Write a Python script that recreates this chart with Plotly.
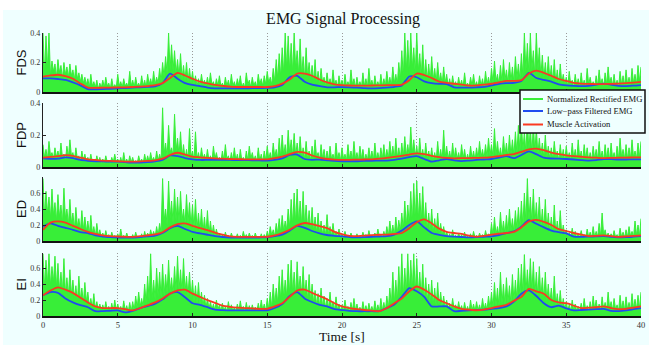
import plotly.graph_objects as go
from plotly.subplots import make_subplots

# ---------------- data ----------------
muscles = ["FDS", "FDP", "ED", "EI"]
legend_names = ["Normalized Rectified EMG", "Low\u2212pass Filtered EMG", "Muscle Activation"]
x_ticks = [0, 5, 10, 15, 20, 25, 30, 35, 40]
t_fine = [round(i * 0.1, 1) for i in range(401)]     # 0.1 s sampling of rectified EMG
t_coarse = [round(i * 0.5, 1) for i in range(81)]    # 0.5 s sampling of smooth curves

fds_raw = [
 .40,.12,.38,.16,.40,.11,.21,.14,.19,.10, .22,.13,.18,.09,.20,.12,.17,.10,.19,.11,
 .15,.08,.18,.09,.13,.07,.12,.06,.10,.05, .09,.03,.12,.04,.07,.03,.08,.02,.06,.03,
 .08,.03,.10,.04,.06,.02,.09,.03,.05,.03, .12,.04,.07,.03,.09,.04,.06,.03,.14,.04,
 .08,.03,.10,.04,.06,.03,.11,.04,.08,.03, .12,.05,.09,.04,.14,.05,.10,.06,.16,.07,
 .20,.10,.24,.12,.40,.15,.32,.14,.28,.12, .22,.10,.26,.09,.18,.08,.20,.07,.16,.06,
 .14,.05,.11,.04,.09,.04,.12,.05,.08,.04, .10,.04,.13,.05,.07,.03,.09,.04,.11,.04,
 .06,.03,.10,.04,.08,.03,.12,.04,.07,.03, .09,.04,.11,.03,.06,.03,.13,.05,.08,.03,
 .10,.04,.07,.03,.12,.05,.09,.04,.11,.05, .14,.06,.10,.05,.16,.07,.22,.09,.26,.10,
 .30,.12,.40,.15,.38,.14,.33,.13,.40,.16, .28,.12,.36,.11,.24,.09,.30,.10,.20,.08,
 .18,.07,.22,.06,.14,.05,.16,.06,.10,.04, .13,.05,.09,.04,.15,.05,.08,.03,.11,.04,
 .08,.03,.12,.04,.07,.03,.15,.05,.09,.03, .10,.04,.07,.03,.13,.04,.09,.03,.16,.05,
 .08,.03,.11,.04,.07,.03,.12,.04,.09,.04, .14,.05,.10,.04,.17,.06,.12,.05,.20,.08,
 .28,.10,.40,.14,.35,.12,.40,.16,.30,.12, .40,.14,.26,.10,.32,.09,.22,.08,.19,.07,
 .24,.08,.16,.06,.20,.07,.13,.05,.17,.06, .12,.04,.09,.03,.11,.04,.07,.03,.10,.04,
 .08,.03,.13,.04,.06,.03,.10,.04,.12,.04, .07,.03,.11,.04,.09,.03,.14,.05,.10,.04,
 .16,.06,.21,.07,.12,.05,.18,.06,.22,.08, .15,.06,.20,.07,.17,.06,.24,.09,.19,.08,
 .26,.10,.40,.14,.33,.12,.40,.15,.28,.11, .40,.14,.30,.10,.25,.09,.20,.08,.24,.08,
 .18,.07,.22,.06,.15,.05,.19,.06,.12,.05, .10,.04,.14,.05,.08,.03,.12,.04,.09,.03,
 .13,.04,.08,.03,.16,.05,.10,.04,.07,.03, .11,.04,.15,.05,.09,.03,.13,.05,.17,.06,
 .10,.04,.12,.04,.08,.03,.14,.05,.11,.04, .15,.05,.10,.04,.16,.06,.12,.05,.18,.07,
 .17]

fdp_raw = [
 .14,.06,.11,.05,.16,.07,.09,.05,.12,.06, .10,.05,.15,.06,.08,.04,.13,.06,.17,.07,
 .09,.04,.12,.05,.07,.03,.10,.04,.08,.03, .06,.03,.08,.03,.05,.02,.07,.03,.06,.02,
 .05,.02,.07,.03,.04,.02,.06,.03,.08,.03, .05,.02,.06,.02,.09,.03,.05,.02,.07,.03,
 .06,.02,.04,.02,.07,.03,.05,.02,.08,.03, .07,.03,.09,.04,.06,.03,.10,.04,.08,.04,
 .37,.08,.15,.06,.26,.09,.12,.07,.33,.10, .18,.07,.22,.06,.14,.05,.11,.04,.24,.06,
 .10,.04,.22,.05,.09,.04,.12,.05,.08,.04, .11,.04,.07,.03,.13,.05,.09,.04,.06,.03,
 .10,.04,.14,.05,.07,.03,.09,.04,.12,.04, .08,.03,.11,.04,.06,.03,.10,.04,.13,.05,
 .09,.04,.07,.03,.12,.04,.08,.03,.10,.04, .13,.05,.09,.04,.15,.06,.11,.05,.18,.06,
 .20,.07,.14,.06,.23,.08,.17,.07,.21,.07, .15,.06,.19,.06,.12,.05,.16,.05,.10,.04,
 .13,.05,.17,.06,.09,.04,.14,.05,.11,.04, .10,.04,.13,.05,.08,.04,.15,.05,.09,.04,
 .12,.05,.08,.04,.14,.05,.10,.04,.16,.05, .09,.04,.13,.05,.11,.04,.08,.04,.12,.05,
 .10,.04,.15,.05,.09,.04,.12,.05,.14,.05, .11,.05,.16,.06,.13,.05,.18,.06,.12,.05,
 .15,.06,.19,.07,.14,.06,.25,.08,.17,.07, .13,.05,.18,.06,.11,.04,.15,.05,.10,.04,
 .12,.04,.09,.04,.16,.05,.11,.04,.23,.06, .13,.05,.10,.04,.15,.05,.12,.05,.09,.04,
 .14,.05,.11,.04,.08,.04,.13,.05,.10,.04, .12,.05,.16,.06,.11,.05,.14,.06,.18,.07,
 .14,.06,.24,.07,.16,.06,.12,.05,.19,.07, .15,.06,.20,.07,.17,.07,.22,.08,.26,.09,
 .28,.10,.22,.09,.30,.10,.25,.08,.27,.09, .24,.08,.18,.07,.15,.06,.20,.06,.13,.05,
 .12,.05,.16,.06,.10,.04,.14,.05,.11,.04, .13,.05,.09,.04,.15,.05,.11,.04,.17,.05,
 .10,.04,.14,.05,.12,.04,.09,.04,.13,.05, .11,.05,.16,.05,.10,.04,.14,.05,.12,.04,
 .15,.05,.09,.04,.13,.05,.18,.06,.11,.05, .14,.05,.12,.05,.17,.06,.10,.05,.15,.06,
 .16]

ed_raw = [
 .78,.30,.62,.35,.55,.28,.65,.32,.48,.25, .58,.30,.45,.22,.66,.28,.40,.20,.52,.22,
 .35,.15,.42,.18,.28,.12,.38,.14,.30,.12, .25,.08,.32,.10,.18,.06,.22,.07,.14,.05,
 .10,.04,.13,.05,.08,.03,.11,.04,.07,.03, .09,.03,.15,.04,.07,.03,.10,.04,.06,.03,
 .08,.03,.11,.04,.06,.03,.09,.03,.12,.04, .10,.04,.14,.06,.12,.05,.18,.07,.22,.10,
 .78,.25,.40,.20,.75,.28,.50,.22,.65,.25, .55,.22,.62,.25,.40,.20,.58,.22,.48,.18,
 .45,.15,.52,.14,.35,.12,.40,.10,.30,.09, .38,.08,.25,.07,.20,.06,.15,.05,.10,.04,
 .08,.03,.11,.04,.07,.03,.10,.04,.06,.03, .09,.03,.07,.03,.12,.04,.08,.03,.10,.04,
 .07,.03,.10,.04,.06,.03,.09,.03,.08,.03, .12,.05,.18,.07,.14,.06,.22,.09,.28,.10,
 .32,.12,.25,.14,.40,.16,.52,.20,.60,.22, .65,.22,.50,.20,.62,.18,.45,.16,.38,.14,
 .42,.12,.30,.10,.35,.09,.25,.08,.20,.07, .33,.08,.18,.06,.22,.06,.12,.05,.15,.04,
 .08,.03,.12,.04,.07,.03,.10,.04,.06,.03, .09,.03,.06,.03,.11,.04,.08,.03,.13,.04,
 .07,.03,.10,.04,.15,.05,.08,.04,.12,.05, .18,.06,.25,.08,.20,.07,.30,.10,.26,.12,
 .35,.14,.50,.18,.45,.20,.62,.22,.72,.25, .75,.26,.60,.22,.68,.20,.48,.15,.35,.12,
 .40,.10,.28,.09,.35,.08,.22,.07,.18,.06, .12,.04,.09,.03,.14,.04,.07,.03,.10,.04,
 .08,.03,.11,.04,.06,.03,.09,.03,.12,.04, .07,.03,.10,.04,.08,.03,.13,.05,.09,.04,
 .22,.06,.30,.08,.18,.07,.36,.09,.25,.08, .32,.10,.40,.12,.28,.11,.38,.14,.42,.15,
 .50,.18,.60,.22,.78,.25,.55,.22,.65,.20, .48,.18,.55,.16,.40,.14,.52,.12,.35,.11,
 .30,.10,.45,.09,.25,.08,.38,.07,.20,.06, .14,.05,.10,.04,.16,.05,.12,.04,.09,.04,
 .13,.04,.08,.03,.15,.05,.11,.04,.18,.05, .12,.05,.22,.06,.35,.07,.14,.05,.10,.04,
 .09,.04,.13,.05,.08,.03,.16,.05,.11,.04, .14,.05,.18,.06,.12,.05,.25,.07,.20,.06,
 .28]

ei_raw = [
 .78,.35,.70,.40,.78,.38,.62,.42,.75,.36, .66,.32,.55,.30,.72,.28,.48,.25,.58,.26,
 .45,.22,.38,.18,.50,.20,.35,.16,.42,.18, .30,.12,.22,.10,.28,.09,.18,.08,.15,.07,
 .14,.06,.18,.07,.12,.05,.16,.06,.20,.07, .15,.06,.12,.05,.19,.07,.13,.05,.17,.06,
 .18,.07,.25,.10,.30,.12,.22,.11,.40,.15, .50,.18,.78,.22,.45,.20,.60,.24,.55,.22,
 .65,.25,.52,.28,.70,.30,.48,.26,.62,.30, .75,.32,.58,.28,.72,.30,.50,.25,.55,.22,
 .45,.18,.38,.15,.42,.14,.30,.12,.26,.10, .22,.09,.18,.08,.15,.07,.20,.08,.14,.06,
 .16,.06,.12,.05,.18,.07,.14,.06,.11,.05, .15,.06,.19,.07,.12,.05,.17,.06,.13,.05,
 .14,.06,.11,.05,.16,.06,.20,.07,.15,.06, .22,.08,.30,.10,.40,.14,.35,.16,.50,.20,
 .58,.22,.45,.24,.65,.26,.70,.28,.55,.25, .68,.30,.50,.26,.62,.24,.45,.20,.52,.18,
 .40,.16,.32,.14,.28,.12,.35,.11,.25,.10, .22,.09,.30,.08,.18,.07,.24,.07,.15,.06,
 .14,.06,.20,.07,.12,.05,.17,.06,.22,.07, .15,.06,.11,.05,.18,.06,.13,.05,.16,.06,
 .12,.05,.19,.06,.14,.05,.22,.07,.17,.06, .25,.09,.35,.12,.55,.16,.45,.18,.62,.20,
 .78,.25,.60,.28,.78,.30,.70,.32,.78,.28, .72,.26,.55,.22,.65,.20,.48,.18,.40,.15,
 .45,.14,.35,.12,.42,.11,.30,.10,.25,.09, .20,.08,.16,.07,.22,.08,.14,.06,.18,.07,
 .13,.05,.17,.06,.12,.05,.20,.07,.15,.06, .18,.07,.14,.06,.22,.08,.16,.07,.25,.09,
 .30,.10,.42,.12,.35,.11,.55,.14,.40,.13, .48,.16,.38,.15,.52,.18,.45,.20,.60,.22,
 .65,.25,.77,.28,.58,.30,.72,.28,.68,.26, .55,.24,.62,.22,.48,.20,.55,.18,.40,.15,
 .35,.14,.50,.12,.28,.10,.32,.09,.22,.08, .18,.07,.14,.06,.20,.07,.15,.06,.12,.05,
 .16,.06,.22,.07,.13,.05,.18,.06,.25,.08, .20,.07,.15,.06,.24,.08,.17,.07,.30,.09,
 .18,.07,.22,.08,.14,.06,.26,.08,.19,.07, .24,.08,.17,.07,.28,.09,.21,.08,.26,.09,
 .30]

fds_lowpass = [.093,.092,.088,.082,.065,.045,.020,.018,.020,.022,.025,.027,.030,.032,.035,.038,.060,.125,.090,.060,
               .048,.040,.030,.025,.024,.024,.025,.025,.026,.027,.028,.032,.047,.100,.110,.070,.050,.040,.032,.032,
               .033,.032,.030,.026,.024,.026,.030,.035,.045,.105,.100,.072,.060,.055,.054,.032,.030,.030,.032,.035,
               .045,.055,.060,.062,.075,.130,.095,.082,.070,.052,.045,.042,.040,.042,.050,.057,.050,.042,.040,.043,.047]
fds_activation = [.104,.112,.117,.108,.090,.058,.030,.028,.029,.030,.031,.032,.034,.036,.040,.046,.060,.095,.130,.112,
                  .090,.070,.058,.048,.042,.036,.034,.034,.034,.034,.034,.040,.057,.085,.125,.125,.110,.085,.065,.052,
                  .046,.044,.043,.043,.044,.045,.046,.047,.050,.080,.125,.115,.095,.070,.062,.056,.050,.044,.045,.050,
                  .056,.065,.075,.075,.080,.125,.145,.130,.110,.088,.075,.062,.057,.055,.054,.054,.055,.057,.060,.064,.068]
fdp_lowpass = [.054,.051,.052,.060,.055,.044,.039,.036,.035,.034,.033,.030,.027,.028,.031,.036,.045,.072,.068,.056,
               .048,.044,.044,.044,.044,.044,.043,.043,.042,.041,.040,.045,.054,.075,.078,.050,.045,.046,.042,.038,
               .036,.035,.036,.038,.039,.040,.040,.045,.052,.062,.068,.050,.034,.042,.050,.042,.037,.040,.044,.047,
               .050,.058,.068,.055,.075,.098,.080,.058,.053,.052,.050,.047,.043,.040,.043,.050,.049,.047,.047,.048,.048]
fdp_activation = [.058,.063,.068,.074,.070,.058,.048,.044,.040,.038,.036,.034,.033,.035,.038,.042,.052,.075,.089,.078,
                  .065,.060,.057,.054,.052,.050,.049,.048,.048,.048,.048,.055,.065,.080,.094,.090,.072,.058,.050,.046,
                  .044,.045,.046,.047,.048,.052,.057,.063,.069,.078,.085,.080,.070,.062,.057,.054,.055,.056,.057,.058,
                  .062,.068,.075,.081,.095,.110,.115,.105,.090,.080,.073,.068,.064,.060,.058,.056,.057,.058,.059,.060,.060]
ed_lowpass = [.18,.22,.19,.165,.14,.11,.10,.07,.055,.048,.044,.044,.044,.05,.058,.068,.10,.16,.19,.15,
              .115,.095,.078,.062,.05,.044,.044,.044,.044,.044,.046,.06,.08,.13,.19,.165,.125,.095,.075,.065,
              .058,.05,.045,.048,.052,.056,.06,.08,.13,.20,.245,.17,.10,.078,.062,.055,.05,.045,.048,.053,
              .058,.075,.10,.12,.18,.262,.215,.17,.13,.11,.095,.055,.052,.055,.058,.06,.052,.045,.048,.054,.06]
ed_activation = [.14,.23,.245,.23,.19,.15,.115,.09,.07,.06,.056,.053,.052,.06,.072,.083,.11,.17,.21,.22,
                 .19,.16,.135,.105,.08,.058,.052,.052,.052,.052,.053,.07,.10,.14,.195,.225,.21,.185,.16,.115,
                 .085,.063,.062,.068,.074,.078,.08,.088,.10,.16,.235,.27,.22,.155,.115,.10,.088,.068,.055,.065,
                 .08,.092,.10,.115,.17,.245,.265,.24,.20,.148,.125,.10,.08,.062,.065,.07,.062,.052,.058,.065,.07]
ei_lowpass = [.26,.30,.29,.22,.17,.135,.11,.06,.062,.066,.07,.045,.065,.10,.125,.155,.21,.28,.30,.235,
              .16,.14,.11,.08,.074,.07,.07,.07,.07,.07,.072,.10,.15,.25,.30,.22,.175,.14,.12,.085,
              .075,.065,.06,.06,.06,.062,.10,.145,.24,.35,.31,.24,.12,.12,.12,.06,.065,.07,.075,.08,
              .09,.10,.12,.18,.28,.32,.25,.16,.11,.13,.095,.07,.075,.08,.085,.09,.065,.062,.07,.085,.10]
ei_activation = [.26,.32,.36,.33,.29,.23,.17,.12,.10,.10,.10,.085,.07,.10,.135,.17,.22,.28,.32,.33,
                 .28,.24,.20,.165,.13,.115,.105,.10,.095,.09,.09,.12,.16,.24,.32,.33,.29,.25,.21,.16,
                 .12,.10,.085,.075,.068,.06,.10,.16,.22,.31,.37,.33,.27,.20,.16,.12,.09,.08,.072,.08,
                 .10,.12,.14,.19,.24,.34,.31,.28,.20,.17,.16,.13,.10,.105,.11,.12,.10,.085,.09,.105,.12]

raw = [fds_raw, fdp_raw, ed_raw, ei_raw]
lowpass = [fds_lowpass, fdp_lowpass, ed_lowpass, ei_lowpass]
activation = [fds_activation, fdp_activation, ed_activation, ei_activation]
y_ranges = [[0, 0.4], [0, 0.4], [0, 0.8], [0, 0.79]]
y_tickvals = [[0, 0.2, 0.4], [0, 0.2, 0.4], [0, 0.2, 0.4, 0.6], [0, 0.2, 0.4, 0.6]]

# ---------------- style ----------------
GREEN = "#38ee38"
BLUE = "#1f4cf0"
RED = "#fa3a22"
BG = "#efffff"
SERIF = "Liberation Serif, Times New Roman, serif"
SANS = "Liberation Sans, Arial, sans-serif"

W, H = 649, 345
ML, MR, MT, MB = 43, 8, 33, 29
PW = W - ML - MR
PH = H - MT - MB
panel_px = [(33, 92), (103, 167), (177, 241), (253, 316)]   # in window pixels


def px_x(p):   # window pixel -> paper x
    return (p - ML) / PW


def px_y(p):   # window pixel -> paper y
    return (H - MB - p) / PH


domains = [[px_y(b), px_y(t)] for t, b in panel_px]

fig = make_subplots(rows=4, cols=1, shared_xaxes=True)

for i in range(4):
    r = i + 1
    fig.add_trace(go.Scatter(x=t_fine, y=raw[i], mode="lines", line=dict(color=GREEN, width=1),
                             fill="tozeroy", fillcolor=GREEN, name=legend_names[0],
                             showlegend=False, hoverinfo="skip"), row=r, col=1)
    fig.add_trace(go.Scatter(x=t_coarse, y=lowpass[i], mode="lines", name=legend_names[1],
                             line=dict(color=BLUE, width=1.8, shape="spline", smoothing=0.6),
                             showlegend=False), row=r, col=1)
    fig.add_trace(go.Scatter(x=t_coarse, y=activation[i], mode="lines", name=legend_names[2],
                             line=dict(color=RED, width=1.8, shape="spline", smoothing=0.6),
                             showlegend=False), row=r, col=1)

for i in range(4):
    r = i + 1
    fig.update_yaxes(domain=domains[i], range=y_ranges[i], tickvals=y_tickvals[i],
                     ticktext=[("0" if v == 0 else f"{v:g}") for v in y_tickvals[i]],
                     showgrid=False, zeroline=False, showline=True, linecolor="#222", linewidth=1.2,
                     ticks="inside", ticklen=3, tickcolor="#222", automargin=False,
                     tickfont=dict(family=SERIF, size=8, color="#333"), row=r, col=1)
    fig.update_xaxes(range=[0, 40], tickvals=x_ticks, showgrid=True, gridcolor="#9a9a9a",
                     griddash="1px,2px", gridwidth=1, zeroline=False, showline=True,
                     linecolor="#111", linewidth=1.5, ticks="inside", ticklen=3, tickcolor="#222",
                     showticklabels=(r == 4), automargin=False,
                     tickfont=dict(family=SERIF, size=8.5, color="#333"), row=r, col=1)
    fig.add_annotation(text=muscles[i], xref="paper", yref="paper",
                       x=px_x(21), y=sum(domains[i]) / 2,
                       textangle=-90, showarrow=False, xanchor="center", yanchor="middle",
                       font=dict(family=SANS, size=13, color="#111"))

fig.add_annotation(text="Time [s]", xref="paper", yref="paper", x=px_x(342), y=px_y(336),
                   showarrow=False, xanchor="center", yanchor="middle",
                   font=dict(family=SERIF, size=13.5, color="#111"))

# cyan page area (white strip on top as in reference)
fig.add_shape(type="rect", xref="paper", yref="paper", layer="below",
              x0=px_x(3), x1=px_x(W), y0=px_y(H + 1), y1=px_y(10),
              fillcolor=BG, line=dict(width=0))

# legend box drawn manually
fig.add_shape(type="rect", xref="paper", yref="paper", layer="above",
              x0=px_x(520), x1=px_x(645), y0=px_y(133), y1=px_y(90),
              fillcolor=BG, line=dict(color="#111", width=1.5))
for name, col, py in zip(legend_names, [GREEN, BLUE, RED], [99, 111, 124.5]):
    fig.add_shape(type="line", xref="paper", yref="paper", layer="above",
                  x0=px_x(523), x1=px_x(543), y0=px_y(py), y1=px_y(py),
                  line=dict(color=col, width=2))
    fig.add_annotation(text=name, xref="paper", yref="paper", x=px_x(545), y=px_y(py),
                       xanchor="left", yanchor="middle", showarrow=False,
                       font=dict(family=SERIF, size=8.6, color="#111"))

fig.update_layout(
    width=W, height=H,
    margin=dict(l=ML, r=MR, t=MT, b=MB, autoexpand=False),
    paper_bgcolor="white", plot_bgcolor=BG,
    title=dict(text="EMG Signal Processing", x=343 / W, xanchor="center",
               y=1 - 18 / H, yanchor="middle",
               font=dict(family=SERIF, size=16, color="#111")),
    showlegend=False,
)

fig.write_html("out.html", config={"displayModeBar": False},
               post_script="document.body.style.margin='0';document.body.style.overflow='hidden';")
